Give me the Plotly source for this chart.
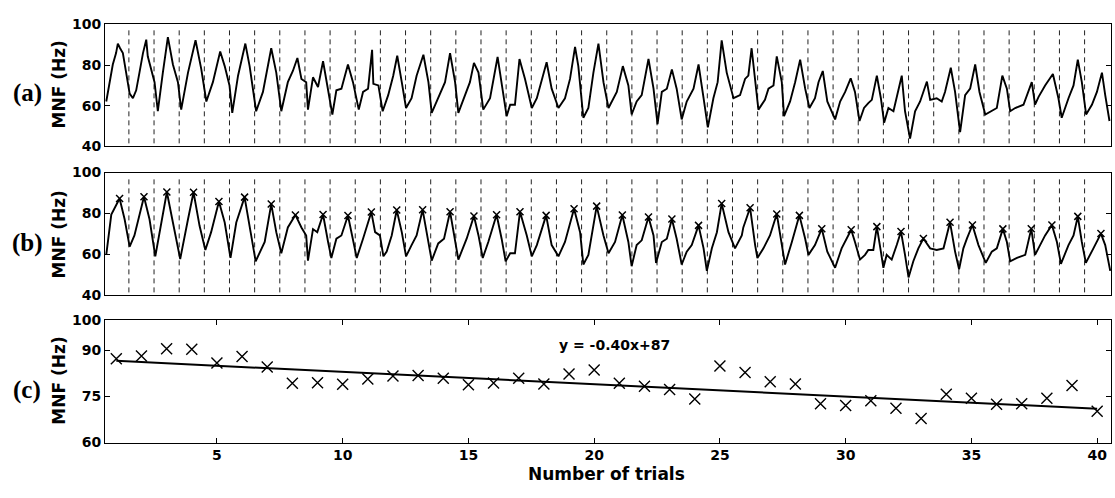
import plotly.graph_objects as go

# ---------------- data ----------------
trials = list(range(1, 41))
mnf = [87.3, 88.2, 90.5, 90.4, 85.9, 88.0, 84.6, 79.3, 79.5, 79.0,
       80.7, 81.7, 81.8, 80.9, 78.8, 79.4, 80.9, 79.1, 82.3, 83.6,
       79.3, 78.3, 77.3, 74.2, 84.9, 82.8, 79.8, 79.1, 72.6, 72.1,
       73.6, 71.2, 67.8, 75.7, 74.4, 72.5, 72.6, 74.4, 78.6, 70.2]
fit_slope = -0.40
fit_intercept = 87
fit_label = "y = -0.40x+87"

boundaries = [1.5, 2.5, 3.5, 4.5, 5.5, 6.5, 7.5, 8.5, 9.5, 10.5,
              11.5, 12.5, 13.5, 14.5, 15.5, 16.5, 17.5, 18.5, 19.5, 20.5,
              21.5, 22.5, 23.5, 24.5, 25.5, 26.5, 27.5, 28.5, 29.5, 30.5,
              31.5, 32.5, 33.5, 34.5, 35.5, 36.5, 37.5, 38.5, 39.5]
dash_span = [41.5, 98]

# panel (a): raw MNF trace (trial units, Hz)
a_x = [0.60, 0.73, 0.86, 0.99, 1.06, 1.15, 1.26, 1.39, 1.53, 1.66, 1.79, 1.92,
       2.06, 2.19, 2.25, 2.52, 2.65, 2.85, 3.05, 3.25, 3.45, 3.58, 3.85, 4.15,
       4.38, 4.58, 4.84, 5.13, 5.31, 5.50, 5.61, 5.84, 6.13, 6.30, 6.56, 6.83,
       7.16, 7.36, 7.56, 7.82, 8.02, 8.20, 8.36, 8.55, 8.62, 8.82, 9.02, 9.22,
       9.42, 9.59, 9.75, 9.95, 10.21, 10.41, 10.64, 10.81, 11.01, 11.17,
       11.22, 11.42, 11.59, 11.81, 12.01, 12.17, 12.35, 12.52, 12.74, 12.94,
       13.21, 13.41, 13.54, 13.80, 14.07, 14.27, 14.47, 14.60, 14.86, 15.06,
       15.22, 15.40, 15.59, 15.86, 16.16, 16.32, 16.52, 16.66, 16.85, 17.03,
       17.25, 17.52, 17.72, 18.11, 18.31, 18.58, 18.84, 19.04, 19.24, 19.37,
       19.57, 19.77, 19.97, 20.17, 20.37, 20.57, 20.90, 21.14, 21.36, 21.49,
       21.69, 21.89, 22.16, 22.36, 22.52, 22.69, 22.89, 23.09, 23.28, 23.48,
       23.68, 23.95, 24.15, 24.35, 24.52, 24.74, 24.91, 25.07, 25.27, 25.54,
       25.80, 26.00, 26.13, 26.26, 26.40, 26.53, 26.79, 26.93, 27.13, 27.26,
       27.46, 27.55, 27.79, 27.99, 28.19, 28.39, 28.56, 28.78, 28.92, 29.09,
       29.27, 29.58, 29.78, 29.98, 30.20, 30.37, 30.55, 30.73, 30.90, 31.04,
       31.24, 31.40, 31.53, 31.70, 31.90, 32.03, 32.23, 32.36, 32.56, 32.76,
       32.96, 33.23, 33.36, 33.62, 33.82, 33.95, 34.18, 34.35, 34.55, 34.75,
       34.95, 35.15, 35.32, 35.55, 35.81, 36.01, 36.23, 36.41, 36.54, 36.74,
       37.07, 37.40, 37.53, 37.67, 37.93, 38.24, 38.46, 38.59, 38.86, 39.06,
       39.23, 39.39, 39.56, 39.79, 39.99, 40.19, 40.32, 40.49]
a_y = [62.1, 71.6, 80.3, 85.9, 90.6, 88.3, 85.9, 76.3, 66.0, 63.7, 67.6, 76.3,
       85.9, 92.5, 84.3, 71.6, 57.3, 76.3, 93.8, 80.3, 71.6, 58.1, 76.3, 92.2,
       77.9, 62.1, 71.6, 86.7, 79.5, 70.0, 56.5, 74.8, 90.6, 79.5, 57.3, 66.8,
       88.3, 76.3, 57.3, 71.6, 77.1, 83.5, 73.2, 71.6, 58.1, 74.0, 69.2, 81.9,
       68.4, 55.7, 67.6, 68.4, 80.3, 71.6, 58.1, 66.8, 68.4, 87.5,
       70.8, 70.0, 57.3, 65.2, 74.8, 84.6, 71.6, 58.9, 63.7, 74.8,
       85.1, 71.6, 56.5, 63.7, 71.6, 85.9, 71.6, 56.5, 65.2, 71.6,
       81.1, 76.3, 58.1, 63.7, 84.0, 70.0, 54.9, 60.5, 60.5, 83.0,
       73.2, 58.9, 63.7, 81.4, 68.4, 58.9, 63.7, 73.2, 89.0, 79.5,
       54.1, 58.9, 76.3, 90.6, 71.6, 58.9, 66.8, 79.5, 70.0, 55.7,
       62.1, 65.2, 83.0, 68.4, 51.0, 66.8, 68.4, 77.9, 68.4, 53.3,
       62.1, 68.4, 80.3, 63.7, 49.4, 63.7, 71.6, 92.2, 76.3, 63.7,
       65.2, 73.2, 74.8, 88.3, 71.6, 58.1, 62.9, 68.4, 70.0, 84.3,
       71.6, 54.9, 62.1, 71.6, 82.7, 68.4, 58.9, 63.7, 71.6, 77.1,
       62.1, 53.3, 62.1, 66.8, 73.5, 66.8, 52.5, 58.9, 61.3, 62.9,
       74.8, 63.7, 51.7, 58.9, 57.3, 63.7, 74.8, 57.3, 43.8, 57.3,
       62.1, 71.9, 62.9, 63.7, 62.1, 66.8, 78.7, 66.8, 47.0, 65.2,
       68.4, 80.3, 66.8, 55.7, 57.3, 58.9, 74.8, 68.4, 57.3, 58.9,
       60.5, 71.6, 60.5, 64.4, 70.0, 75.6, 63.7, 54.1, 63.7, 70.0,
       82.7, 71.6, 55.7, 60.5, 66.8, 76.3, 65.2, 52.5]

# panel (b): smoothed trace, non-peak samples; peaks sit at (peak_x, mnf)
b_x = [0.60, 0.80, 1.33, 1.53, 1.72, 2.32, 2.55, 2.79, 3.25, 3.54, 3.85,
       4.31, 4.54, 4.77, 5.31, 5.54, 5.77, 6.34, 6.54, 6.90, 7.36, 7.56, 7.82,
       8.36, 8.55, 8.62, 8.82, 8.99, 9.42, 9.55, 9.75, 9.95, 10.41, 10.56,
       10.81, 11.29, 11.48, 11.62, 11.75, 11.95, 12.35, 12.52, 12.74, 12.94,
       13.37, 13.54, 13.80, 14.03, 14.47, 14.60, 14.93, 15.40, 15.57, 15.79,
       16.32, 16.48, 16.66, 16.85, 17.32, 17.52, 17.72, 18.31, 18.58, 18.84,
       19.44, 19.57, 19.77, 20.37, 20.57, 20.83, 21.36, 21.49, 21.69, 21.89,
       22.36, 22.46, 22.69, 22.89, 23.28, 23.48, 23.68, 23.88, 24.35, 24.48,
       24.68, 24.88, 25.34, 25.60, 25.87, 25.93, 26.40, 26.49, 26.73, 26.99,
       27.46, 27.59, 27.86, 28.39, 28.52, 28.78, 29.27, 29.58, 29.84, 30.04,
       30.37, 30.57, 30.77, 30.90, 31.10, 31.40, 31.50, 31.63, 31.83, 32.03,
       32.36, 32.50, 32.69, 32.89, 33.36, 33.62, 33.89, 34.35, 34.51, 34.68,
       34.82, 35.28, 35.57, 35.81, 36.01, 36.41, 36.54, 36.81, 37.14, 37.53,
       37.67, 37.93, 38.40, 38.56, 38.86, 39.06, 39.39, 39.55, 39.85, 40.32,
       40.52]
b_y = [59.8, 79.5, 77.2, 63.8, 69.3, 77.2, 59.1, 75.6, 75.6, 57.8, 77.2,
       74.0, 62.2, 70.9, 75.6, 58.3, 75.6, 70.9, 56.7, 66.1, 70.9, 60.6, 73.2,
       73.2, 69.3, 57.0, 72.4, 70.9, 66.1, 58.3, 67.7, 69.3, 67.7, 58.3,
       67.7, 70.9, 69.3, 59.1, 61.4, 69.3, 70.9, 59.1, 64.6, 69.3,
       69.3, 57.0, 65.4, 67.7, 66.1, 57.5, 67.7, 69.3, 58.3, 66.1,
       67.7, 56.7, 60.6, 60.6, 69.3, 59.1, 64.6, 64.6, 59.1, 66.1,
       70.9, 55.1, 59.8, 69.3, 60.6, 66.1, 66.1, 54.3, 64.6, 66.9,
       69.3, 55.9, 66.1, 67.7, 67.7, 55.1, 61.4, 64.6, 63.0, 52.0,
       63.0, 70.9, 70.9, 63.0, 69.3, 73.2, 64.6, 58.3, 63.0, 69.3,
       64.6, 55.1, 66.1, 67.7, 59.8, 64.6, 61.4, 53.5, 63.0, 67.7,
       66.1, 57.5, 59.8, 62.2, 62.2, 61.4, 53.5, 59.8, 57.5, 64.6,
       59.8, 48.8, 56.7, 63.0, 63.0, 62.2, 63.0, 61.4, 52.8, 63.0,
       67.7, 64.6, 55.9, 61.4, 63.0, 66.1, 56.7, 58.3, 59.8, 59.8,
       63.0, 69.3, 66.1, 55.4, 64.6, 69.3, 66.1, 55.9, 63.0, 64.6,
       52.0]
peak_x = [1.13, 2.10, 3.01, 4.07, 5.08, 6.10, 7.16, 8.12, 9.22, 10.21,
          11.14, 12.15, 13.18, 14.27, 15.22, 16.12, 17.05, 18.09, 19.20, 20.10,
          21.12, 22.16, 23.09, 24.15, 25.07, 26.20, 27.26, 28.16, 29.05, 30.22,
          31.24, 32.20, 33.09, 34.15, 35.04, 36.25, 37.38, 38.20, 39.23, 40.15]

# ---------------- figure ----------------
W, H = 1115, 498
xdom = [105 / W, 1111 / W]
ydom_a = [1 - 143 / H, 1 - 17 / H]
ydom_b = [1 - 297 / H, 1 - 170 / H]
ydom_c = [1 - 449 / H, 1 - 322 / H]
xrange_ = [0.55, 40.55]

FONT = "DejaVu Sans"
tickfont = dict(family=FONT, size=14, color="black", weight="bold")

fig = go.Figure()

# dashed trial boundaries
dx, dy = [], []
for b in boundaries:
    dx += [b, b, None]
    dy += [dash_span[0], dash_span[1], None]
for xa, ya in (("x", "y"), ("x2", "y2")):
    fig.add_trace(go.Scatter(x=dx, y=dy, mode="lines", xaxis=xa, yaxis=ya,
                             line=dict(color="#222", width=1, dash="5px,4px"),
                             hoverinfo="skip", showlegend=False))

# (a) trace
fig.add_trace(go.Scatter(x=a_x, y=a_y, mode="lines", xaxis="x", yaxis="y",
                         line=dict(color="black", width=1.9), showlegend=False))

# (b) trace: merge samples and peaks
pts = sorted(list(zip(b_x, b_y)) + list(zip(peak_x, mnf)))
fig.add_trace(go.Scatter(x=[p[0] for p in pts], y=[p[1] for p in pts], mode="lines",
                         xaxis="x2", yaxis="y2",
                         line=dict(color="black", width=1.9), showlegend=False))
fig.add_trace(go.Scatter(x=peak_x, y=mnf, mode="markers", xaxis="x2", yaxis="y2",
                         marker=dict(symbol="x-thin-open", size=7, color="black",
                                     line=dict(width=1.5, color="black")),
                         showlegend=False))

# (c) scatter + fit
fig.add_trace(go.Scatter(x=trials, y=mnf, mode="markers", xaxis="x3", yaxis="y3",
                         marker=dict(symbol="x-thin-open", size=11, color="black",
                                     line=dict(width=1.4, color="black")),
                         showlegend=False))
fx = [trials[0], trials[-1]]
fig.add_trace(go.Scatter(x=fx, y=[fit_slope * v + fit_intercept for v in fx],
                         mode="lines", xaxis="x3", yaxis="y3",
                         line=dict(color="black", width=2), showlegend=False))

axis_common = dict(showline=True, linecolor="black", linewidth=1, mirror="ticks",
                   ticks="inside", ticklen=5, tickcolor="black", showgrid=False,
                   zeroline=False, tickfont=tickfont)

fig.update_layout(
    width=W, height=H, margin=dict(l=0, r=0, t=0, b=0),
    paper_bgcolor="white", plot_bgcolor="white",
    xaxis=dict(axis_common, domain=xdom, range=xrange_, anchor="y",
               showticklabels=False, ticks=""),
    yaxis=dict(axis_common, domain=ydom_a, range=[40, 100], anchor="x",
               tickvals=[40, 60, 80, 100]),
    xaxis2=dict(axis_common, domain=xdom, range=xrange_, anchor="y2",
                showticklabels=False, ticks=""),
    yaxis2=dict(axis_common, domain=ydom_b, range=[40, 100], anchor="x2",
                tickvals=[40, 60, 80, 100]),
    xaxis3=dict(axis_common, domain=xdom, range=xrange_, anchor="y3",
                tickvals=[5, 10, 15, 20, 25, 30, 35, 40]),
    yaxis3=dict(axis_common, domain=ydom_c, range=[60, 100], anchor="x3",
                tickvals=[60, 75, 90, 100]),
)

ann = []
for lab, yc, ym in (("(a)", 88, 79), ("(b)", 243, 234), ("(c)", 395, 385)):
    ann.append(dict(text=lab, x=27 / W, y=1 - yc / H, xref="paper", yref="paper",
                    showarrow=False, xanchor="center", yanchor="middle",
                    font=dict(family="Liberation Serif", size=25, color="black",
                              weight="bold")))
    ann.append(dict(text="MNF (Hz)", x=59 / W, y=1 - ym / H, xref="paper", yref="paper",
                    showarrow=False, textangle=-90, xanchor="center", yanchor="middle",
                    font=dict(family=FONT, size=17, color="black", weight="bold")))
ann.append(dict(text="Number of trials", x=606 / W, y=1 - 481 / H, xref="paper",
                yref="paper", showarrow=False, xanchor="center", yanchor="middle",
                font=dict(family=FONT, size=17, color="black", weight="bold")))
ann.append(dict(text=fit_label, x=20.8, y=91.8, xref="x3", yref="y3", showarrow=False,
                xanchor="center", yanchor="middle",
                font=dict(family=FONT, size=14, color="black", weight="bold")))
fig.update_layout(annotations=ann)

fig.write_html("out.html")
